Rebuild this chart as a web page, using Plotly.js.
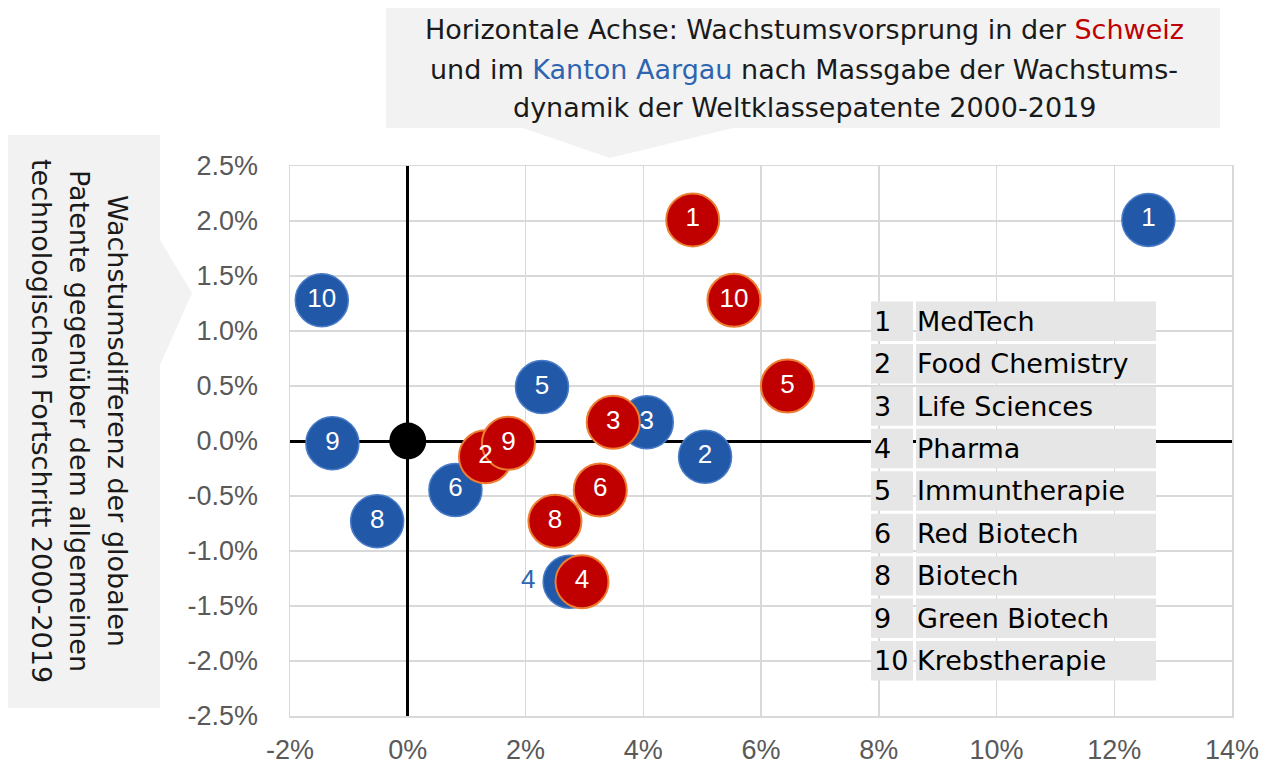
<!DOCTYPE html>
<html>
<head>
<meta charset="utf-8">
<script src="https://cdn.plot.ly/plotly-3.0.1.min.js"></script>
<style>html,body{margin:0;padding:0;background:#fff;}#chart{width:1274px;height:764px;}</style>
</head>
<body>
<div id="chart"></div>
<script>
// ---- data ----
const labels = ["1", "2", "3", "4", "5", "6", "8", "9", "10"];
const names = ["MedTech", "Food Chemistry", "Life Sciences", "Pharma", "Immuntherapie", "Red Biotech", "Biotech", "Green Biotech", "Krebstherapie"];
const aargauX = [0.1258, 0.0505, 0.0406, 0.0275, 0.0228, 0.0081, -0.0052, -0.0128, -0.0146];
const aargauY = [0.0201, -0.00143, 0.0017, -0.0128, 0.0049, -0.00445, -0.0073, -0.0002, 0.0128];
const schweizX = [0.0484, 0.0132, 0.0349, 0.0296, 0.0645, 0.0327, 0.0250, 0.0171, 0.0554];
const schweizY = [0.0201, -0.00143, 0.0017, -0.0128, 0.0050, -0.00445, -0.0073, -0.0002, 0.0128];
const originX = [0];
const originY = [0];
const xTickVals = [-0.02, 0, 0.02, 0.04, 0.06, 0.08, 0.10, 0.12, 0.14];
const xTickText = ["-2%", "0%", "2%", "4%", "6%", "8%", "10%", "12%", "14%"];
const yTickVals = [-0.025, -0.02, -0.015, -0.01, -0.005, 0, 0.005, 0.01, 0.015, 0.02, 0.025];
const yTickText = ["-2.5%", "-2.0%", "-1.5%", "-1.0%", "-0.5%", "0.0%", "0.5%", "1.0%", "1.5%", "2.0%", "2.5%"];

// ---- geometry helpers (plot area: x 290..1232, y 166..716) ----
const L = 290, R = 1232, T = 166, B = 716;
const px = x => (x - L) / (R - L);
const py = y => (B - y) / (B - T);

const BLUE = '#2159a8', BLUE_LINE = '#4a7cc7', RED = '#c00000', RED_LINE = '#ed7d31';
const FONT = 'Liberation Sans, Arial, sans-serif';
const TFONT = 'DejaVu Sans, Verdana, sans-serif';
const TSIZE = 27;

const traces = [
  {x: originX, y: originY, mode: 'markers', type: 'scatter', hoverinfo: 'skip',
   marker: {size: 37, color: '#000000'}},
  {x: aargauX, y: aargauY, mode: 'markers', type: 'scatter', name: 'Kanton Aargau',
   marker: {size: 53, color: BLUE, line: {color: BLUE_LINE, width: 1.5}}},
  {x: schweizX, y: schweizY, mode: 'markers', type: 'scatter', name: 'Schweiz',
   marker: {size: 53, color: RED, line: {color: RED_LINE, width: 2}}},
  {x: aargauX, y: aargauY, mode: 'markers+text', type: 'scatter', text: labels, hoverinfo: 'skip',
   marker: {size: 53, color: 'rgba(0,0,0,0)'},
   textposition: labels.map(l => l === '4' ? 'middle left' : 'middle center'),
   textfont: {family: FONT, size: 26, color: labels.map(l => l === '4' ? '#2e64b0' : '#ffffff')}},
  {x: schweizX, y: schweizY, mode: 'text', type: 'scatter', text: labels, hoverinfo: 'skip',
   textposition: 'middle center',
   textfont: {family: FONT, size: 26, color: '#ffffff'}}
];

const shapes = [];
const annotations = [];

// Title call-out box
shapes.push({type: 'path', xref: 'paper', yref: 'paper', layer: 'below', line: {width: 0}, fillcolor: '#f2f2f2',
  path: `M ${px(386)} ${py(8)} L ${px(1220)} ${py(8)} L ${px(1220)} ${py(128)} L ${px(733)} ${py(128)} L ${px(610)} ${py(158)} L ${px(523)} ${py(128)} L ${px(386)} ${py(128)} Z`});
// Left call-out box
shapes.push({type: 'path', xref: 'paper', yref: 'paper', layer: 'below', line: {width: 0}, fillcolor: '#f2f2f2',
  path: `M ${px(8)} ${py(135)} L ${px(160)} ${py(135)} L ${px(160)} ${py(240)} L ${px(192)} ${py(293)} L ${px(160)} ${py(365)} L ${px(160)} ${py(708)} L ${px(8)} ${py(708)} Z`});

const titleLines = [
  "Horizontale Achse: Wachstumsvorsprung in der <span style='color:#c00000'>Schweiz</span>",
  "und im <span style='color:#2e64b0'>Kanton Aargau</span> nach Massgabe der Wachstums-",
  "dynamik der Weltklassepatente 2000-2019"
];
const titleY = [30, 69, 107];
titleLines.forEach((t, i) => annotations.push({xref: 'paper', yref: 'paper', x: px(804), y: py(titleY[i]),
  xanchor: 'center', yanchor: 'middle', showarrow: false, text: t,
  font: {family: TFONT, size: TSIZE, color: '#1a1a1a'}}));

const yTitleLines = [
  "Wachstumsdifferenz der globalen",
  "Patente gegenüber dem allgemeinen",
  "technologischen Fortschritt 2000-2019"
];
const yTitleX = [118, 80, 42];
yTitleLines.forEach((t, i) => annotations.push({xref: 'paper', yref: 'paper', x: px(yTitleX[i]), y: py(421),
  xanchor: 'center', yanchor: 'middle', showarrow: false, text: t, textangle: 90,
  font: {family: TFONT, size: TSIZE, color: '#1a1a1a'}}));

// Key table
const tTop = 300, rowH = 42.44;
labels.forEach((l, i) => {
  const y0 = tTop + i * rowH + 1.5, y1 = tTop + (i + 1) * rowH - 1.5;
  shapes.push({type: 'rect', xref: 'paper', yref: 'paper', layer: 'above', line: {width: 0}, fillcolor: '#e6e6e6',
    x0: px(871), x1: px(913), y0: py(y0), y1: py(y1)});
  shapes.push({type: 'rect', xref: 'paper', yref: 'paper', layer: 'above', line: {width: 0}, fillcolor: '#e6e6e6',
    x0: px(916), x1: px(1156), y0: py(y0), y1: py(y1)});
  const yc = py(tTop + (i + 0.5) * rowH);
  annotations.push({xref: 'paper', yref: 'paper', x: px(872), y: yc, xanchor: 'left', yanchor: 'middle',
    showarrow: false, text: l, font: {family: TFONT, size: TSIZE, color: '#000000'}});
  annotations.push({xref: 'paper', yref: 'paper', x: px(915), y: yc, xanchor: 'left', yanchor: 'middle',
    showarrow: false, text: names[i], font: {family: TFONT, size: TSIZE, color: '#000000'}});
});

const layout = {
  width: 1274, height: 764,
  margin: {l: L, r: 1274 - R, t: T, b: 764 - B, pad: 0},
  paper_bgcolor: '#ffffff', plot_bgcolor: '#ffffff',
  showlegend: false,
  xaxis: {range: [-0.02, 0.14], tickmode: 'array', tickvals: xTickVals, ticktext: xTickText,
    showgrid: true, gridcolor: '#d9d9d9', gridwidth: 1.5,
    showline: true, linecolor: '#d9d9d9', linewidth: 1.5, mirror: true,
    zeroline: true, zerolinecolor: '#000000', zerolinewidth: 3,
    ticks: '', ticklabelstandoff: 9,
    tickfont: {family: FONT, size: 27, color: '#595959'}, fixedrange: true},
  yaxis: {range: [-0.025, 0.025], tickmode: 'array', tickvals: yTickVals, ticktext: yTickText,
    showgrid: true, gridcolor: '#d9d9d9', gridwidth: 1.5,
    showline: true, linecolor: '#d9d9d9', linewidth: 1.5, mirror: true,
    zeroline: true, zerolinecolor: '#000000', zerolinewidth: 3,
    ticks: '', ticklabelstandoff: 25,
    tickfont: {family: FONT, size: 27, color: '#595959'}, fixedrange: true},
  shapes: shapes,
  annotations: annotations
};

Plotly.newPlot('chart', traces, layout, {displayModeBar: false, staticPlot: true});
</script>
</body>
</html>
